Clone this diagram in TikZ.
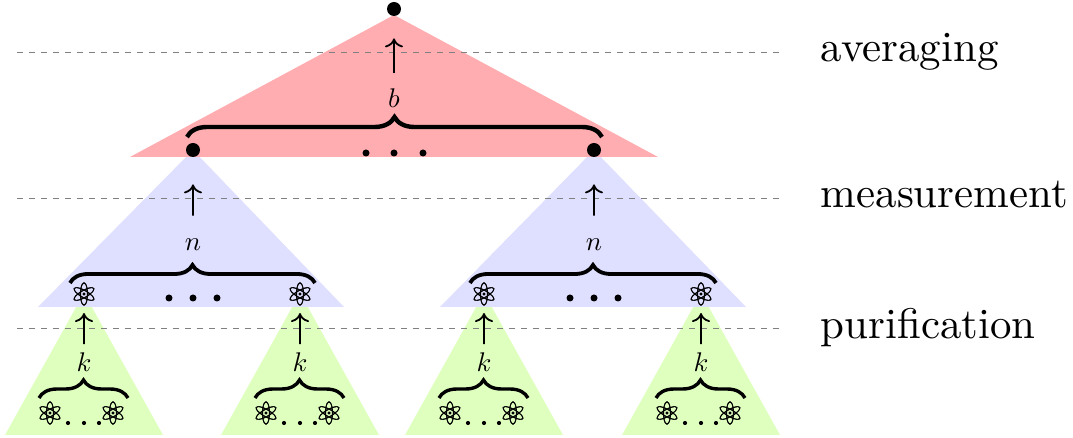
\documentclass[tikz,border=0pt]{standalone}
\usepackage{fontspec}
\setmainfont{Latin Modern Roman}
\newfontfamily\symbfont[RawFeature={embolden=1}]{DejaVu Sans}
\usetikzlibrary{decorations.pathreplacing, arrows.meta}

\definecolor{avgred}{HTML}{FFADB1}
\definecolor{measblue}{HTML}{DFDFFF}
\definecolor{purgreen}{HTML}{DFFFBF}

\begin{document}
\begin{tikzpicture}[
        x=0.5pt, y=-0.5pt,
        every node/.style={inner sep=0pt},
        level/.style={draw=gray, thin, dashed},
        stage/.style={anchor=base west, scale=2.145},
        size/.style={scale=1.35},
        atom/.style={font=\symbfont\fontsize{16}{16}\selectfont, minimum size=11pt},
        state/.style={circle, fill=black, minimum size=7pt},
        spot/.style={circle, fill=black, minimum size=3.5pt},
        smallspot/.style={circle, fill=black, minimum size=2.1pt},
        up/.style={draw, line width=0.9pt, -{Computer Modern Rightarrow[width=9pt, length=4.5pt]}}
    ]
    \useasboundingbox (0,0) rectangle (1073,438);

    % Triangles
    \foreach \x in {84,300,484,701} {
        \fill[purgreen] (\x,293) -- (\x-79,435) -- (\x+79,435) -- cycle;
    }
    \fill[measblue] (193,150) -- (38,307) -- (344,307) -- cycle;
    \fill[measblue] (594,150) -- (440,307) -- (746,307) -- cycle;
    \fill[avgred] (394,15) -- (130,157) -- (658,157) -- cycle;

    % Levels
    \draw[level] (17,52) -- (783,52);
    \draw[level] (17,198) -- (783,198);
    \draw[level] (17,328) -- (783,328);
    \node (averaging) [stage] at (820,62) {averaging};
    \node (measurement) [stage] at (820,208) {measurement};
    \node (purification) [stage] at (820,339) {purification};

    % Top
    \node (root) [state] at (394,9) {};
    \node (b) [size] at (394,98) {$b$};
    \node (stateA) [state] at (193,150) {};
    \node (stateB) [state] at (594,150) {};
    \foreach \x in {366,394,423} {
        \node (dot\x) [spot] at (\x,153) {};
    }
    \draw[decorate, decoration={brace, amplitude=10pt}, line width=2.2pt] (187,137) -- (602,137);
    \path[up, shorten <=7.5pt, shorten >=11pt] (b) -- (root);

    % Measurement
    \foreach \x/\name/\la/\lb in {193/A/84/300, 594/B/484/701} {
        \node (n\name) [size] at (\x,245) {$n$};
        \path[up, shorten <=11.5pt, shorten >=13.5pt] (n\name) -- (state\name);
        \draw[decorate, decoration={brace, amplitude=9pt}, line width=1.9pt] (\la-14,283) -- (\lb+15,283);
        \foreach \d in {-24,0,24} {
            \node (dot\name\d) [spot] at (\x+\d,298) {};
        }
    }

    % Purification
    \foreach \x/\name in {84/a, 300/b, 484/c, 701/d} {
        \node (atom\name) [atom] at (\x,294) {⚛};
        \node (k\name) [size] at (\x,362) {$k$};
        \path[up, shorten <=4pt, shorten >=3.5pt] (k\name) -- (atom\name);
        \draw[decorate, decoration={brace, amplitude=9pt}, line width=1.7pt] (\x-45,398) -- (\x+44,398);
        \node (left\name) [atom] at (\x-34,413) {⚛};
        \node (right\name) [atom] at (\x+29,413) {⚛};
        \foreach \d in {-16,0,15} {
            \node (dot\name\d) [smallspot] at (\x+\d,423) {};
        }
    }
\end{tikzpicture}
\end{document}
